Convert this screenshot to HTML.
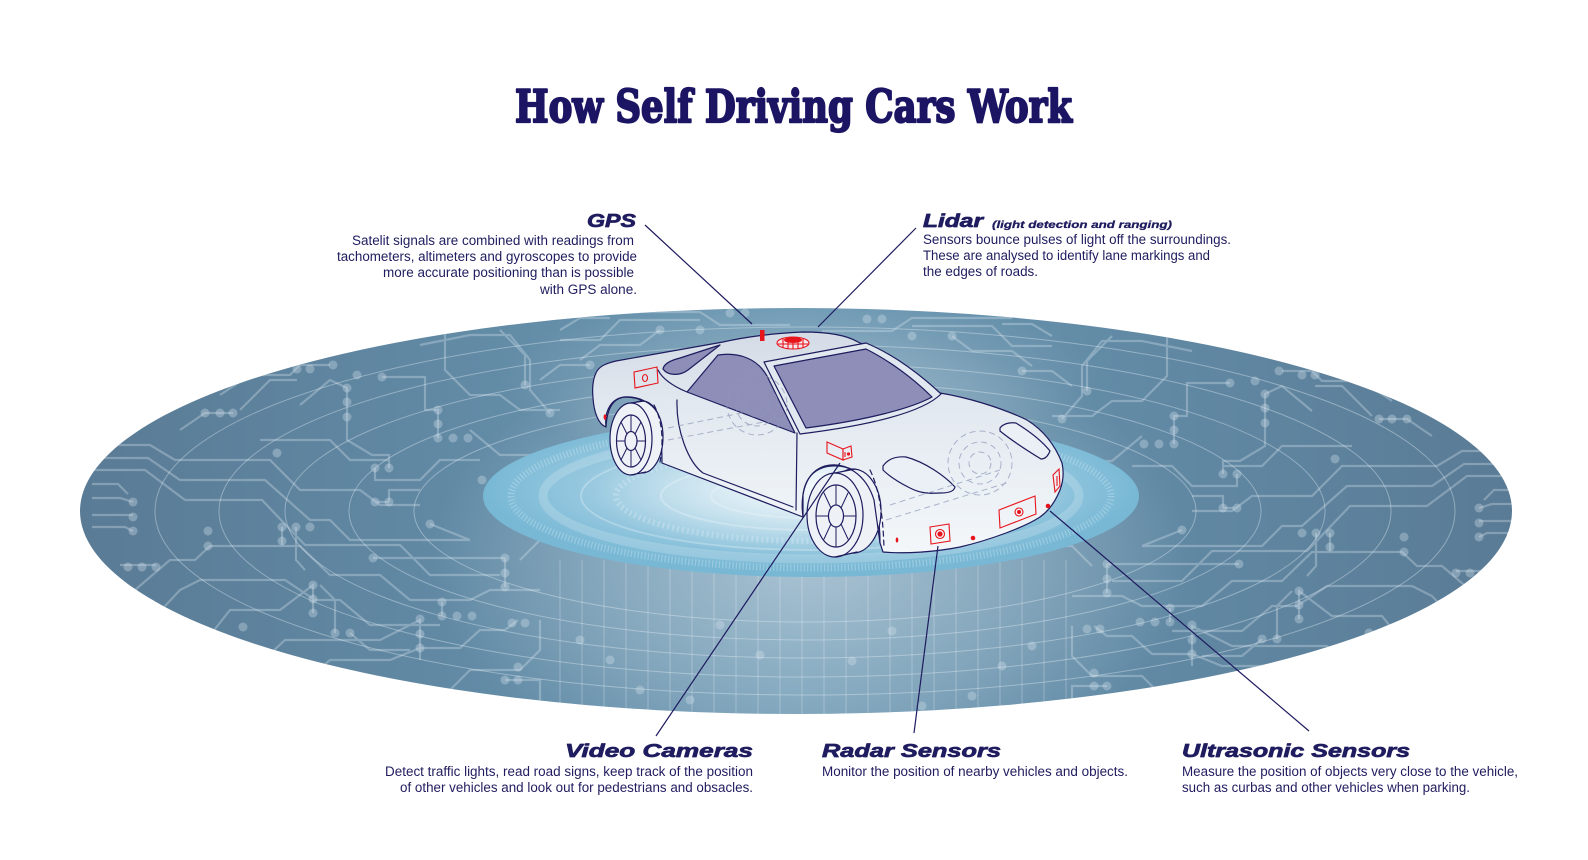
<!DOCTYPE html>
<html><head><meta charset="utf-8">
<style>
html,body{margin:0;padding:0;background:#fff;}
svg{display:block;}
</style></head>
<body>
<svg width="1588" height="860" viewBox="0 0 1588 860" xmlns="http://www.w3.org/2000/svg">
<defs>
  <clipPath id="oc"><ellipse cx="796" cy="511" rx="716" ry="203"/></clipPath>
  <linearGradient id="og" x1="0" y1="0" x2="1" y2="0">
    <stop offset="0" stop-color="#5a7b95"/>
    <stop offset="0.25" stop-color="#6189a4"/>
    <stop offset="0.5" stop-color="#6a97b2"/>
    <stop offset="0.75" stop-color="#6189a4"/>
    <stop offset="1" stop-color="#5a7b95"/>
  </linearGradient>
  <radialGradient id="lit" cx="0.5" cy="0.5" r="0.5">
    <stop offset="0" stop-color="#d4e0e8" stop-opacity="0.6"/>
    <stop offset="0.6" stop-color="#c8d8e2" stop-opacity="0.3"/>
    <stop offset="1" stop-color="#c8d8e2" stop-opacity="0"/>
  </radialGradient>
  <radialGradient id="ig" cx="0.5" cy="0.45" r="0.5">
    <stop offset="0" stop-color="#dcedf5"/>
    <stop offset="0.5" stop-color="#a9d2e5"/>
    <stop offset="1" stop-color="#78b8d5"/>
  </radialGradient>
  <radialGradient id="glow" cx="0.5" cy="0.5" r="0.5">
    <stop offset="0" stop-color="#ffffff" stop-opacity="0.7"/>
    <stop offset="1" stop-color="#ffffff" stop-opacity="0"/>
  </radialGradient>
  <linearGradient id="bg" x1="0" y1="0" x2="0" y2="1">
    <stop offset="0" stop-color="#d3dbe6"/>
    <stop offset="0.35" stop-color="#e3e9f0"/>
    <stop offset="1" stop-color="#f3f7fa"/>
  </linearGradient>
  <g id="circ" fill="none" stroke="#dbe8f1" stroke-opacity="0.33" stroke-width="2.2">
    <path d="M100,445 H150 L175,460 H270 L300,490 H360 L380,505 H420
M95,458 H148 L180,480 H265 L310,520 H330 L350,540 H470
M92,470 H145 L185,500 H262 L305,545 H400 L430,575 H500
M92,484 H118 L128,494
M92,498 H120 L133,502
M92,515 H133
M92,527 H125 L133,531
M120,565 H156
M110,590 L135,590 L170,560 H195 L210,546 H300 L330,575 H380 L410,600 H470 L490,590 H540
M150,622 L180,590 L200,580 L285,580 L315,600 H340 L370,625 H440
M200,648 L230,610 L280,610 L313,585 V613
M255,668 L285,640 H380 L420,620 V648
M300,685 L330,660 H390 L420,648 H460 L480,630 H505 L518,620
M373,558 H505
M450,690 L470,670 H520 L540,650 V620
M180,430 L205,413 H233
M240,410 L270,380 H297
M300,405 L330,380 L347,388 V417
M347,417 V440 L372,455 H389 V468
M260,440 H330 L350,460 H389
M282,527 V545
M296,527 V560 L305,570
M375,468 V480 H420 L440,460 H480
M375,502 H389 M389,502 V490 H420
M430,524 L470,540
M382,377 H425 V410 L438,410 V438
M420,345 L470,335 H510 L530,360 V390 L550,413
M330,365 H300 L290,375 H250 L220,395
M360,340 L420,330 L470,320 L520,318
M445,330 V370 L470,395 H500 L520,410 H560
M500,330 L525,355 V385
M470,430 L500,455 L560,455
M505,558 V587
M442,602 V616 M420,619 V660
M335,633 V600 L320,585
M350,633 L370,650 H410
M505,680 H540 V700
M520,560 L540,540 H560
M560,340 H600 L620,320 H700
M580,360 L600,345 H640 L660,330
M540,380 L560,365 H590
M600,312 H700 L720,325 H790
M560,330 L580,318 H610"/>
    <g fill="#dbe8f1" fill-opacity="0.33" stroke="none">
      <circle cx="205" cy="413" r="4.5"/><circle cx="220" cy="413" r="4.5"/><circle cx="233" cy="413" r="4.5"/>
      <circle cx="357" cy="375" r="4.5"/><circle cx="347" cy="388" r="4.5"/><circle cx="347" cy="402" r="4.5"/><circle cx="347" cy="417" r="4.5"/>
      <circle cx="277" cy="453" r="4.5"/><circle cx="382" cy="377" r="4.5"/>
      <circle cx="438" cy="410" r="4.5"/><circle cx="438" cy="424" r="4.5"/><circle cx="438" cy="438" r="4.5"/><circle cx="453" cy="438" r="4.5"/><circle cx="468" cy="438" r="4.5"/>
      <circle cx="375" cy="468" r="4.5"/><circle cx="389" cy="468" r="4.5"/><circle cx="375" cy="502" r="4.5"/><circle cx="389" cy="502" r="4.5"/>
      <circle cx="482" cy="480" r="4.5"/>
      <circle cx="133" cy="502" r="4.5"/><circle cx="133" cy="517" r="4.5"/><circle cx="133" cy="531" r="4.5"/>
      <circle cx="208" cy="531" r="4.5"/><circle cx="208" cy="546" r="4.5"/>
      <circle cx="282" cy="527" r="4.5"/><circle cx="296" cy="527" r="4.5"/><circle cx="310" cy="527" r="4.5"/><circle cx="282" cy="541" r="4.5"/>
      <circle cx="430" cy="524" r="4.5"/><circle cx="373" cy="558" r="4.5"/>
      <circle cx="505" cy="558" r="4.5"/><circle cx="505" cy="573" r="4.5"/><circle cx="505" cy="587" r="4.5"/>
      <circle cx="128" cy="567" r="4.5"/><circle cx="142" cy="567" r="4.5"/><circle cx="156" cy="567" r="4.5"/>
      <circle cx="313" cy="585" r="4.5"/><circle cx="313" cy="599" r="4.5"/><circle cx="313" cy="613" r="4.5"/>
      <circle cx="442" cy="602" r="4.5"/><circle cx="442" cy="616" r="4.5"/><circle cx="457" cy="616" r="4.5"/><circle cx="472" cy="616" r="4.5"/>
      <circle cx="420" cy="619" r="4.5"/><circle cx="420" cy="634" r="4.5"/><circle cx="420" cy="648" r="4.5"/>
      <circle cx="512" cy="623" r="4.5"/><circle cx="525" cy="623" r="4.5"/><circle cx="243" cy="627" r="4.5"/>
      <circle cx="335" cy="633" r="4.5"/><circle cx="350" cy="633" r="4.5"/>
      <circle cx="518" cy="667" r="4.5"/><circle cx="505" cy="680" r="4.5"/><circle cx="518" cy="680" r="4.5"/>
      <circle cx="525" cy="385" r="4.5"/><circle cx="550" cy="413" r="4.5"/>
      <circle cx="333" cy="365" r="4.5"/><circle cx="310" cy="369" r="4.5"/><circle cx="297" cy="369" r="4.5"/>
      <circle cx="730" cy="313" r="4.5"/><circle cx="745" cy="313" r="4.5"/><circle cx="700" cy="330" r="4.5"/><circle cx="660" cy="330" r="4.5"/>
      <circle cx="590" cy="365" r="4.5"/><circle cx="560" cy="455" r="4.5"/>
      <circle cx="580" cy="640" r="4.5"/><circle cx="610" cy="660" r="4.5"/><circle cx="640" cy="690" r="4.5"/><circle cx="690" cy="700" r="4.5"/><circle cx="720" cy="625" r="4.5"/><circle cx="760" cy="655" r="4.5"/>
    </g>
  </g>
</defs>

<!-- Title -->
<text x="793.5" y="122" text-anchor="middle" textLength="557" lengthAdjust="spacingAndGlyphs" font-family="DejaVu Serif, Liberation Serif, serif" font-weight="bold" font-size="45" fill="#1b1563" stroke="#1b1563" stroke-width="2.2" stroke-linejoin="round">How Self Driving Cars Work</text>

<!-- Platform -->
<ellipse cx="796" cy="511" rx="716" ry="203" fill="url(#og)"/>
<g clip-path="url(#oc)">
  <ellipse cx="810" cy="560" rx="380" ry="230" fill="url(#lit)"/>
  <ellipse cx="800" cy="380" rx="300" ry="90" fill="url(#lit)" opacity="0.6"/>
  <use href="#circ"/>
  <use href="#circ" transform="translate(1612,6) scale(-1,1)"/>
  <g fill="none" stroke="#e3eef5" stroke-opacity="0.4" stroke-width="1">
    <ellipse cx="805" cy="511" rx="391" ry="111"/>
    <ellipse cx="805" cy="511" rx="456" ry="129"/>
    <ellipse cx="805" cy="511" rx="520" ry="147"/>
    <ellipse cx="805" cy="511" rx="586" ry="166"/>
    <ellipse cx="805" cy="511" rx="650" ry="184"/>
  </g>
  <g stroke="#eef5fa" stroke-opacity="0.2" stroke-width="1.5">
    <path d="M560,560V720M582,560V720M604,560V720M626,560V720M648,560V720M670,560V720M692,560V720M714,560V720M736,560V720M758,560V720M780,560V720M802,560V720M824,560V720M846,560V720M868,560V720M890,560V720M912,560V720M934,560V720M956,560V720M978,560V720M1000,560V720M1022,560V720M1044,560V720M1066,560V720"/>
  </g>
</g>

<!-- inner disc -->
<ellipse cx="811" cy="496" rx="328" ry="81" fill="url(#ig)"/>
<g fill="none" stroke="#ffffff">
  <ellipse cx="811" cy="496" rx="300" ry="72" stroke-opacity="0.25" stroke-width="7" stroke-dasharray="1.2 2.2"/>
  <ellipse cx="811" cy="496" rx="268" ry="63" stroke-opacity="0.18" stroke-width="9"/>
  <ellipse cx="811" cy="496" rx="230" ry="54" stroke-opacity="0.25" stroke-width="2"/>
  <ellipse cx="811" cy="496" rx="195" ry="45" stroke-opacity="0.22" stroke-width="6" stroke-dasharray="2 3"/>
  <ellipse cx="811" cy="496" rx="150" ry="34" stroke-opacity="0.25" stroke-width="2"/>
  <ellipse cx="811" cy="496" rx="100" ry="22" stroke-opacity="0.22" stroke-width="2"/>
</g>
<ellipse cx="830" cy="488" rx="240" ry="70" fill="url(#glow)"/>

<!-- Car -->
<g stroke="#1e1c5e" stroke-width="1.2" stroke-linejoin="round" stroke-linecap="round">
  <path fill="url(#bg)" d="M597,371 C601,365 608,363 616,361 L723,342 C745,337 775,333 803,332 C830,332 848,336 858,342 C890,356 920,375 940,393 C965,397 1000,407 1027,420 C1043,430 1055,445 1062,463 C1064,472 1063,482 1060,490 C1056,500 1050,510 1040,517 C1025,527 990,540 960,547 C935,552 905,554 883,552 L880,543 C880,520 876,498 870,486 C862,472 848,465 832,466 C815,467 805,478 803,495 L803,517 L662,463 C662,440 660,420 652,408 C645,400 635,397 625,397 C613,398 607,408 606,427 C598,424 594,412 593,398 C592,388 593,378 597,371 Z"/>
  <path fill="#e2e8ef" d="M764,362 L866,343 C895,355 922,376 941,394 C925,410 880,424 800,434 Z"/>
  <path fill="#8e8eb8" d="M774,366 L866,349 C890,361 914,379 932,397 C912,408 868,420 806,428 Z"/>
  <path fill="#8e8eb8" d="M687,392 L718,355 C738,352 757,358 767,376 L795,433 Z"/>
  <path fill="#8e8eb8" d="M663,369 C664,363 672,360 680,358 L720,345 L688,370 C680,376 668,376 663,369 Z"/>
  <path fill="none" d="M658,370 C663,380 675,387 687,392"/>
  <path fill="none" d="M677,400 C676,430 688,462 703,473 L793,507"/>
  <path fill="none" d="M797,433 L796,510"/>
  <path fill="#eaf0f5" d="M883,466 C888,459 896,456 906,457 C925,462 945,476 955,487 C954,491 950,493 940,493 C925,494 918,492 910,488 C898,482 888,475 883,470 Z"/>
  <path fill="#eaf0f5" d="M1000,428 C1003,424 1009,422 1016,423 C1029,431 1042,441 1050,451 C1048,456 1045,459 1041,459 C1028,451 1011,440 1000,431 Z"/>
  <g fill="#eef2f7">
    <ellipse cx="642" cy="437" rx="21" ry="36"/>
    <path d="M631,403 L642,401 L662,437 L642,473 L631,475 Z" stroke="none"/>
    <ellipse cx="631" cy="439" rx="21" ry="36"/>
    <ellipse cx="631" cy="441" rx="14.5" ry="26"/>
    <ellipse cx="631" cy="441" rx="6" ry="9.5"/>
  </g>
  <path fill="none" stroke-width="1" d="M631,431.5 V415 M631,450.5 V467 M625,441 H616.5 M637,441 H645.5 M635,434 L641,422 M627,434 L621,422 M635,448 L641,460 M627,448 L621,460"/>
  <path fill="none" d="M631,403 L644,401 M631,475 L646,472"/>
  <g fill="#eef2f7">
    <ellipse cx="853" cy="511" rx="28" ry="42"/>
    <path d="M835,473 L853,469 L881,511 L853,553 L835,557 Z" stroke="none"/>
    <ellipse cx="835" cy="515" rx="28" ry="42"/>
    <ellipse cx="836" cy="516" rx="20" ry="31"/>
    <ellipse cx="836" cy="516" rx="7.5" ry="11"/>
  </g>
  <path fill="none" stroke-width="1" d="M836,505 V485 M836,527 V547 M828.5,516 H816 M843.5,516 H856 M841,508 L848,493 M831,508 L824,493 M841,524 L848,539 M831,524 L824,539"/>
  <path fill="none" d="M835,473 L855,469 M835,557 L857,552"/>
  <path fill="none" d="M606,427 C604,410 612,398 625,397 C640,396 652,404 657,412"/>
  <path fill="none" d="M803,517 C800,495 805,472 825,466 C845,461 866,474 874,500 L880,543"/>
  <path fill="none" stroke-dasharray="5 4" d="M654,405 C662,420 664,440 660,462"/>
  <path fill="none" stroke-dasharray="5 4" d="M870,470 C879,488 883,515 884,548"/>
</g>
<g fill="none" stroke="#8e98b8" stroke-width="1" stroke-dasharray="6 4" opacity="0.7">
  <path d="M668,428 L780,405 M668,440 L785,418 M890,505 L1000,470 M886,520 L1010,482"/>
  <circle cx="757" cy="405" r="12"/><circle cx="757" cy="405" r="21"/><circle cx="757" cy="405" r="30"/>
  <circle cx="980" cy="463" r="11"/><circle cx="980" cy="463" r="21"/><circle cx="980" cy="463" r="32"/>
</g>

<!-- Sensors -->
<g stroke="#e8141b" fill="none" stroke-width="1.1">
  <rect x="760" y="330" width="4.5" height="11" fill="#e8141b" stroke="none"/>
  <ellipse cx="793" cy="343" rx="16" ry="6" fill="#f4e6ea"/>
  <ellipse cx="793" cy="340" rx="9" ry="3" fill="#e8141b" stroke="none"/>
  <path d="M783,338.5V348M788,337.5V349M793,337V349M798,337.5V349M803,338.5V348M777.5,344H808.5"/>
  <polygon points="634,372 657,367 658,383 635,388"/>
  <ellipse cx="645" cy="378" rx="2.5" ry="3.5"/>
  <polygon points="827,442 843,449 843,460 827,453"/>
  <polygon points="843,449 851,446 852,457 843,460"/>
  <path d="M845,452V457"/>
  <polygon points="930,527 949,524 950,541 931,544"/>
  <circle cx="940" cy="534" r="4.5"/>
  <polygon points="999,510 1035,496 1036,514 1000,528"/>
  <circle cx="1019" cy="512" r="4"/>
  <polygon points="1053,475 1059,469 1060,486 1055,492"/>
  <path d="M1057,476V486"/>
</g>
<g fill="#e8141b">
  <ellipse cx="605" cy="417" rx="1.4" ry="2.8"/>
  <circle cx="848.5" cy="454" r="1.6"/>
  <circle cx="940" cy="534" r="2.6"/>
  <circle cx="1019" cy="512" r="2"/>
  <ellipse cx="897" cy="540" rx="1.3" ry="2.5"/>
  <circle cx="973" cy="538" r="2.3"/>
  <circle cx="1048" cy="506" r="2.3"/>
</g>

<!-- Connectors -->
<g stroke="#1e1b5f" stroke-width="1.2" fill="none">
  <path d="M645,225 L752,324"/>
  <path d="M916,228 L818,327"/>
  <path d="M840,463 L656,736"/>
  <path d="M938,546 L914,733"/>
  <path d="M1050,511 L1309,731"/>
</g>

<!-- Labels -->
<g font-family="Liberation Sans, Arial, sans-serif" fill="#1f1c5f">
  <g font-weight="bold" font-style="italic" font-size="18" stroke="#1f1c5f" stroke-width="0.7" stroke-linejoin="round">
    <text x="636" y="227" text-anchor="end" textLength="49" lengthAdjust="spacingAndGlyphs">GPS</text>
    <text x="923" y="227" textLength="60" lengthAdjust="spacingAndGlyphs">Lidar</text>
    <text x="565" y="757" textLength="188" lengthAdjust="spacingAndGlyphs">Video Cameras</text>
    <text x="822" y="757" textLength="179" lengthAdjust="spacingAndGlyphs">Radar Sensors</text>
    <text x="1182" y="757" textLength="228" lengthAdjust="spacingAndGlyphs">Ultrasonic Sensors</text>
  </g>
  <text x="992" y="228" font-weight="bold" font-style="italic" font-size="10.5" stroke="#1f1c5f" stroke-width="0.3" textLength="180" lengthAdjust="spacingAndGlyphs">(light detection and ranging)</text>
  <g font-size="13.5">
    <text x="352" y="245" textLength="282" lengthAdjust="spacingAndGlyphs">Satelit signals are combined with readings from</text>
    <text x="337" y="261" textLength="300" lengthAdjust="spacingAndGlyphs">tachometers, altimeters and gyroscopes to provide</text>
    <text x="383" y="277" textLength="251" lengthAdjust="spacingAndGlyphs">more accurate positioning than is possible</text>
    <text x="540" y="294" textLength="97" lengthAdjust="spacingAndGlyphs">with GPS alone.</text>

    <text x="923" y="244" textLength="308" lengthAdjust="spacingAndGlyphs">Sensors bounce pulses of light off the surroundings.</text>
    <text x="923" y="260" textLength="287" lengthAdjust="spacingAndGlyphs">These are analysed to identify lane markings and</text>
    <text x="923" y="276" textLength="115" lengthAdjust="spacingAndGlyphs">the edges of roads.</text>

    <text x="385" y="776" textLength="368" lengthAdjust="spacingAndGlyphs">Detect traffic lights, read road signs, keep track of the position</text>
    <text x="400" y="792" textLength="353" lengthAdjust="spacingAndGlyphs">of other vehicles and look out for pedestrians and obsacles.</text>

    <text x="822" y="776" textLength="306" lengthAdjust="spacingAndGlyphs">Monitor the position of nearby vehicles and objects.</text>

    <text x="1182" y="776" textLength="336" lengthAdjust="spacingAndGlyphs">Measure the position of objects very close to the vehicle,</text>
    <text x="1182" y="792" textLength="288" lengthAdjust="spacingAndGlyphs">such as curbas and other vehicles when parking.</text>
  </g>
</g>
</svg>
</body></html>
